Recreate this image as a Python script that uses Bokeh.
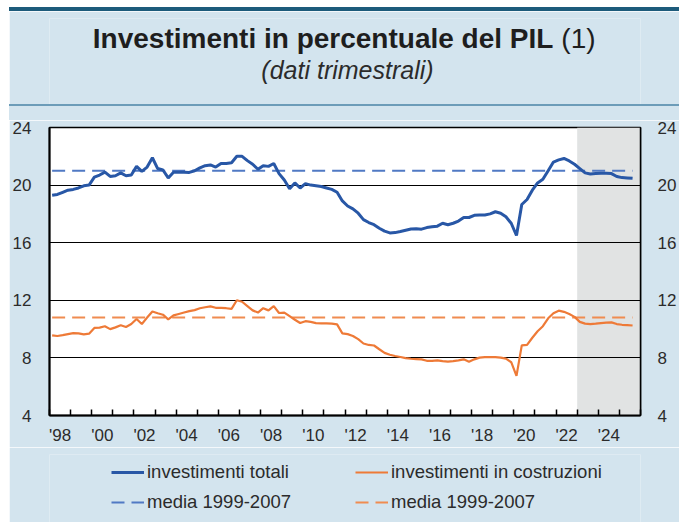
from bokeh.plotting import figure
from bokeh.layouts import column, row
from bokeh.models import (Range1d, LinearAxis, FixedTicker, BoxAnnotation,
                          Label, Legend, LegendItem, Spacer)
from bokeh.embed import file_html
from bokeh.resources import INLINE

# ---------------- data ----------------
first_year = 1998
totali = [
    19.3, 19.35, 19.5, 19.65,      # 1998
    19.7, 19.8, 19.95, 20.0,       # 1999
    20.55, 20.7, 20.9, 20.6,       # 2000
    20.65, 20.85, 20.65, 20.7,     # 2001
    21.3, 20.95, 21.25, 21.9,      # 2002
    21.15, 21.05, 20.5, 20.9,      # 2003
    20.9, 20.9, 20.88, 21.0,       # 2004
    21.2, 21.35, 21.4, 21.25,      # 2005
    21.5, 21.5, 21.55, 22.0,       # 2006
    22.0, 21.7, 21.45, 21.1,       # 2007
    21.35, 21.3, 21.5, 20.8,       # 2008
    20.35, 19.75, 20.15, 19.8,     # 2009
    20.1, 20.0, 19.95, 19.9,       # 2010
    19.8, 19.7, 19.5, 18.9,        # 2011
    18.55, 18.35, 18.05, 17.6,     # 2012
    17.4, 17.25, 17.0, 16.8,       # 2013
    16.68, 16.7, 16.78, 16.87,     # 2014
    16.95, 16.97, 16.94, 17.05,    # 2015
    17.1, 17.15, 17.35, 17.25,     # 2016
    17.35, 17.5, 17.75, 17.75,     # 2017
    17.9, 17.93, 17.93, 18.0,      # 2018
    18.15, 18.05, 17.8, 17.35,     # 2019
    16.5, 18.65, 19.0, 19.65,      # 2020
    20.15, 20.4, 21.0, 21.6,       # 2021
    21.75, 21.85, 21.68, 21.45,    # 2022
    21.15, 20.85, 20.77, 20.8,     # 2023
    20.82, 20.82, 20.8, 20.6,      # 2024
    20.52, 20.5, 20.47,            # 2025
]
costruzioni = [
    9.57, 9.52, 9.58, 9.65,        # 1998
    9.72, 9.7, 9.63, 9.68,         # 1999
    10.08, 10.1, 10.2, 10.0,       # 2000
    10.12, 10.27, 10.15, 10.35,    # 2001
    10.7, 10.35, 10.8, 11.22,      # 2002
    11.1, 11.0, 10.68, 10.95,      # 2003
    11.05, 11.15, 11.25, 11.32,    # 2004
    11.45, 11.52, 11.58, 11.48,    # 2005
    11.47, 11.45, 11.4, 12.0,      # 2006
    11.9, 11.6, 11.3, 11.15,       # 2007
    11.45, 11.3, 11.6, 11.12,      # 2008
    11.15, 10.9, 10.65, 10.42,     # 2009
    10.55, 10.5, 10.42, 10.4,      # 2010
    10.4, 10.38, 10.33, 9.7,       # 2011
    9.65, 9.52, 9.3, 9.0,          # 2012
    8.9, 8.86, 8.6, 8.35,          # 2013
    8.22, 8.13, 8.06, 7.98,        # 2014
    7.94, 7.92, 7.9, 7.8,          # 2015
    7.8, 7.83, 7.78, 7.74,         # 2016
    7.78, 7.83, 7.9, 7.74,         # 2017
    7.9, 8.02, 8.05, 8.05,         # 2018
    8.05, 8.02, 7.95, 7.7,         # 2019
    6.75, 8.87, 8.9, 9.4,          # 2020
    9.85, 10.2, 10.75, 11.1,       # 2021
    11.28, 11.2, 11.05, 10.85,     # 2022
    10.5, 10.38, 10.35, 10.38,     # 2023
    10.42, 10.45, 10.47, 10.35,    # 2024
    10.3, 10.28, 10.25,            # 2025
]
media_totali = 21.0
media_costruzioni = 10.8
forecast_start = 2023
x_start, x_end = 1998, 2026
y_ticks = [4, 8, 12, 16, 20, 24]
grid_ticks = [8, 12, 16, 20]
year_ticks = list(range(1998, 2027))
label_years = list(range(1998, 2025, 2))
x_labels = ["'98", "'00", "'02", "'04", "'06", "'08", "'10", "'12",
            "'14", "'16", "'18", "'20", "'22", "'24"]

title_main = "Investimenti in percentuale del PIL"
title_note = "(1)"
subtitle = "(dati trimestrali)"
leg_totali = "investimenti totali"
leg_costr = "investimenti in costruzioni"
leg_media = "media 1999-2007"

dates = [first_year + (i + 0.5) / 4 for i in range(len(totali))]

# ---------------- style / layout ----------------
BG = "#d3e4ee"
DARK = "#1d5b7b"
SEP = "#6c9cb8"
BLUE = "#2857a6"
BLUE_D = "#5079c4"
ORANGE = "#ee7a37"
ORANGE_D = "#f08c50"
FONT = "Liberation Sans"
TXT = "#2b2b2b"

LEFT_PAD = 9          # white strip left of the panel
TOP_PAD = 7           # white strip above the panel
W = 670
ML, MR = 39, 34       # frame borders (shared by all stacked figures)
BT = 7                # top border (shared by all stacked figures)
LINE_H = 4
HEAD_H = 93
SEP_H = 2
GAP_H = 14
FRAME_H, MB = 289, 31
MAIN_H = BT + FRAME_H + MB
LEG_H = 75
FRAME_L = LEFT_PAD + ML
FRAME_R = LEFT_PAD + W - MR


def base_fig(height, color, **kw):
    f = figure(width=W, height=height, output_backend="svg", toolbar_location=None,
               title=None, title_location=None,
               x_axis_type=None, y_axis_type=None,
               min_border_left=ML, min_border_right=MR,
               min_border_top=BT, min_border_bottom=0,
               background_fill_color=color, border_fill_color=color,
               outline_line_color=None, **kw)
    f.grid.visible = False
    return f


def band(height, color):
    return Spacer(width=W, height=height, styles={"background-color": color})


# ---------------- header ----------------
head_top = TOP_PAD + LINE_H
head = base_fig(HEAD_H, BG, x_range=Range1d(FRAME_L, FRAME_R),
                y_range=Range1d(head_top + HEAD_H, head_top + BT))
head.add_layout(Label(x=557, y=38, text=title_main, text_align="right",
                      text_baseline="alphabetic", text_font=FONT,
                      text_font_style="bold", text_font_size="28px",
                      text_color="#1e1e1e"))
head.add_layout(Label(x=565, y=38, text=title_note, text_align="left",
                      text_baseline="alphabetic", text_font=FONT,
                      text_font_size="28px", text_color="#1e1e1e"))
head.add_layout(Label(x=349, y=69, text=subtitle, text_align="center",
                      text_baseline="alphabetic", text_font=FONT,
                      text_font_style="italic", text_font_size="25px",
                      text_color="#2b2b2b"))

# ---------------- main chart ----------------
p = figure(width=W, height=MAIN_H, output_backend="svg", toolbar_location=None,
           title=None, title_location=None,
           x_range=Range1d(x_start, x_end), y_range=Range1d(4, 24),
           min_border_left=ML, min_border_right=MR,
           min_border_top=BT, min_border_bottom=MB,
           background_fill_color="white", border_fill_color=BG,
           outline_line_color="black", outline_line_width=1.5)

p.add_layout(BoxAnnotation(left=forecast_start, right=x_end,
                           fill_color="#e1e3e3", fill_alpha=1.0,
                           line_color=None, level="image"))

p.xgrid.visible = False
p.ygrid.ticker = FixedTicker(ticks=grid_ticks)
p.ygrid.grid_line_color = "black"
p.ygrid.grid_line_width = 1
p.ygrid.grid_line_alpha = 1.0

xa = p.xaxis[0]
xa.ticker = FixedTicker(ticks=[y + 0.5 for y in label_years], minor_ticks=year_ticks)
xa.major_label_overrides = {y + 0.5: lab for y, lab in zip(label_years, x_labels)}
xa.major_tick_line_color = None
xa.major_tick_in = 0
xa.major_tick_out = 0
xa.minor_tick_in = 6
xa.minor_tick_out = 0
xa.minor_tick_line_color = "black"
xa.minor_tick_line_width = 1.5
xa.major_label_standoff = 10
xa.axis_line_width = 2
xa.major_label_text_font = FONT
xa.major_label_text_font_size = "17px"
xa.major_label_text_color = TXT


def style_y(ax, standoff, lw):
    ax.ticker = FixedTicker(ticks=y_ticks)
    ax.major_tick_line_color = None
    ax.minor_tick_line_color = None
    ax.major_tick_in = 0
    ax.major_tick_out = 0
    ax.minor_tick_in = 0
    ax.minor_tick_out = 0
    ax.major_label_standoff = standoff
    ax.axis_line_width = lw
    ax.major_label_text_font = FONT
    ax.major_label_text_font_size = "17px"
    ax.major_label_text_color = TXT


style_y(p.yaxis[0], 18, 2)
ra = LinearAxis()
style_y(ra, 17, 1.5)
p.add_layout(ra, "right")

bd = p.line([dates[0], dates[-1]], [media_totali, media_totali],
            line_color=BLUE_D, line_width=2, line_dash="13 7")
od = p.line([dates[0], dates[-1]], [media_costruzioni, media_costruzioni],
            line_color=ORANGE_D, line_width=2, line_dash="13 7")
bl = p.line(dates, totali, line_color=BLUE, line_width=3)
ol = p.line(dates, costruzioni, line_color=ORANGE, line_width=2.2)

# ---------------- legend strip ----------------
lf = base_fig(LEG_H, BG, x_range=Range1d(x_start, x_end), y_range=Range1d(4, 24))
r_bl = lf.line(dates, totali, line_color=BLUE, line_width=3, visible=False)
r_bd = lf.line([dates[0], dates[-1]], [media_totali, media_totali],
               line_color=BLUE_D, line_width=2, line_dash="13 7", visible=False)
r_ol = lf.line(dates, costruzioni, line_color=ORANGE, line_width=2.2, visible=False)
r_od = lf.line([dates[0], dates[-1]], [media_costruzioni, media_costruzioni],
               line_color=ORANGE_D, line_width=2, line_dash="13 7", visible=False)


def make_legend(items, x_img):
    lg = Legend(items=items, location=(x_img - FRAME_L, 8),
                orientation="vertical", padding=0, margin=0, spacing=6,
                glyph_width=33, glyph_height=24, label_height=24,
                label_standoff=3, label_text_font=FONT,
                label_text_font_size="18.5px", label_text_color=TXT,
                background_fill_alpha=0, border_line_color=None)
    lf.add_layout(lg, "center")


make_legend([LegendItem(label=leg_totali, renderers=[r_bl]),
             LegendItem(label=leg_media, renderers=[r_bd])], 110)
make_legend([LegendItem(label=leg_costr, renderers=[r_ol]),
             LegendItem(label=leg_media, renderers=[r_od])], 354)

stack = column(Spacer(width=W, height=TOP_PAD), band(LINE_H, DARK), head,
               band(SEP_H, SEP), band(GAP_H, BG), p, lf, spacing=0)
layout = row(Spacer(width=LEFT_PAD, height=10), stack, spacing=0)
open("out.html", "w").write(file_html(layout, INLINE))
